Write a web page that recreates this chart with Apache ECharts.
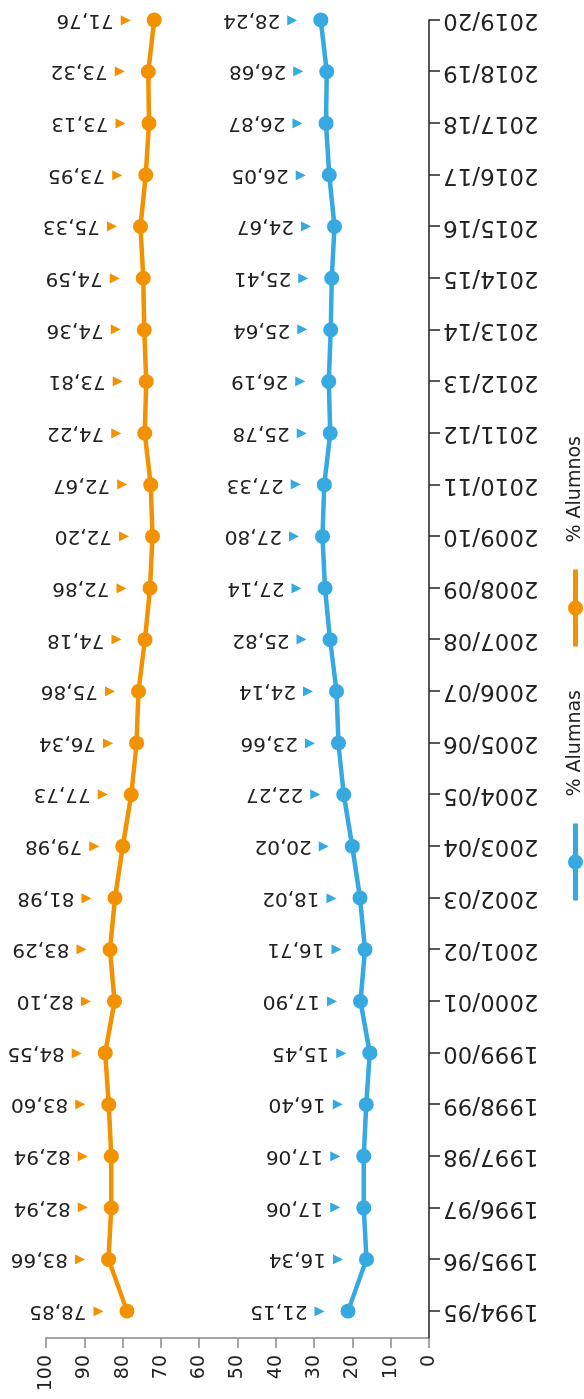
<!DOCTYPE html>
<html>
<head>
<meta charset="utf-8">
<script src="https://cdn.jsdelivr.net/npm/echarts@6/dist/echarts.min.js"></script>
<style>
html, body { margin: 0; padding: 0; background: #fff; overflow: hidden; width: 584px; height: 1399px; }
#c { position: absolute; left: 0; top: 0; width: 1399px; height: 584px; transform-origin: 0 0; transform: translate(0, 1399px) rotate(-90deg); }
</style>
</head>
<body>
<div id="c"></div>
<script>
const categories = ['1994/95','1995/96','1996/97','1997/98','1998/99','1999/00','2000/01','2001/02','2002/03','2003/04','2004/05','2005/06','2006/07','2007/08','2008/09','2009/10','2010/11','2011/12','2012/13','2013/14','2014/15','2015/16','2016/17','2017/18','2018/19','2019/20'];
const alumnas = [21.15,16.34,17.06,17.06,16.40,15.45,17.90,16.71,18.02,20.02,22.27,23.66,24.14,25.82,27.14,27.80,27.33,25.78,26.19,25.64,25.41,24.67,26.05,26.87,26.68,28.24];
const alumnos = [78.85,83.66,82.94,82.94,83.60,84.55,82.10,83.29,81.98,79.98,77.73,76.34,75.86,74.18,72.86,72.20,72.67,74.22,73.81,74.36,74.59,75.33,73.95,73.13,73.32,71.76];
const seriesNames = ['% Alumnas', '% Alumnos'];
const valueTicks = [0,10,20,30,40,50,60,70,80,90,100];

const FONT = 'DejaVu Sans';
const idx = categories.map((c, i) => i);
const fmt = v => v.toFixed(2).replace('.', ',');

function makeSeries(name, values, color) {
  return {
    name: name,
    type: 'line',
    data: values.map((v, i) => [i, v]),
    symbol: 'circle',
    symbolSize: 15,
    lineStyle: { color: color, width: 4.5 },
    itemStyle: { color: color },
    label: {
      show: true,
      position: 'top',
      distance: 16,
      rotate: 90,
      align: 'left',
      verticalAlign: 'middle',
      formatter: p => '{t|◀}{v|' + fmt(p.value[1]) + '}',
      rich: {
        t: { color: color, fontSize: 13, fontFamily: FONT, padding: [0, 7, 0, 0] },
        v: { color: '#222', fontSize: 20, fontFamily: FONT }
      }
    },
    emphasis: { disabled: true },
    animation: false
  };
}

const chart = echarts.init(document.getElementById('c'), null, { renderer: 'canvas' });
chart.setOption({
  animation: false,
  backgroundColor: '#fff',
  grid: { left: 61, right: 20, top: 46, bottom: 155 },
  legend: {
    data: seriesNames,
    left: 491,
    top: 561,
    itemWidth: 77,
    itemHeight: 19,
    itemGap: 41,
    lineStyle: { width: 5 },
    textStyle: { fontSize: 19, fontFamily: FONT, color: '#222', padding: [0, 0, 0, 22] }
  },
  xAxis: {
    type: 'value',
    min: -0.52,
    max: 25,
    splitLine: { show: false },
    axisLine: { show: true, onZero: false, lineStyle: { color: '#222', width: 1.5 } },
    axisTick: { show: true, length: 11, customValues: idx, lineStyle: { color: '#222', width: 1.5 } },
    axisLabel: {
      customValues: idx,
      rotate: 90,
      margin: 14,
      fontSize: 23,
      fontFamily: FONT,
      color: '#222',
      formatter: v => categories[Math.round(v)]
    }
  },
  yAxis: {
    type: 'value',
    min: 0,
    max: 100,
    interval: 10,
    splitLine: { show: false },
    axisLine: { show: true, onZero: false, lineStyle: { color: '#888', width: 1.5 } },
    axisTick: { show: true, length: 10, lineStyle: { color: '#888', width: 1.5 } },
    axisLabel: {
      margin: 17,
      fontSize: 19,
      fontFamily: FONT,
      color: '#222',
      formatter: v => valueTicks.includes(v) ? String(v) : ''
    }
  },
  series: [
    makeSeries(seriesNames[0], alumnas, '#36A9E1'),
    makeSeries(seriesNames[1], alumnos, '#F39200')
  ]
});
</script>
</body>
</html>
